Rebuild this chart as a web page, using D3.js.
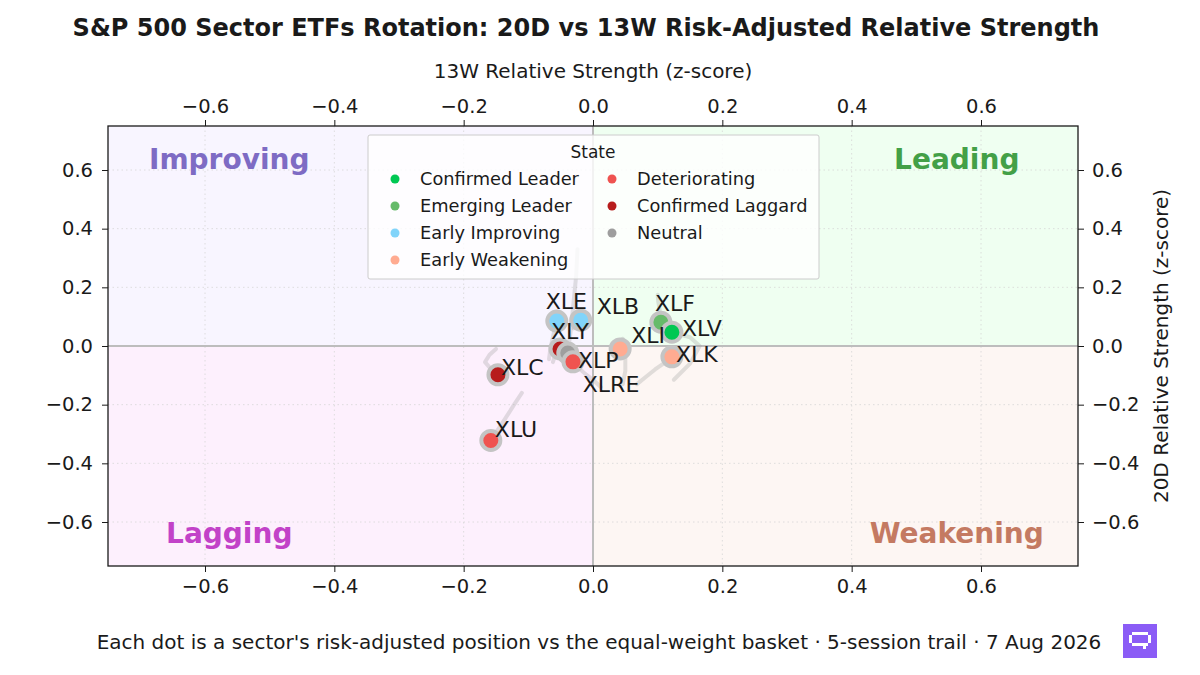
<!DOCTYPE html>
<html>
<head>
<meta charset="utf-8">
<script src="https://cdn.jsdelivr.net/npm/d3@7"></script>
<style>
  body { margin: 0; background: #fff; }
  svg { display: block; font-family: "DejaVu Sans", sans-serif; }
</style>
</head>
<body>
<div id="chart"></div>
<script>
var svgWidth = 1200;
var svgHeight = 675;

var margin = { top: 126, right: 122, bottom: 109, left: 108 };
var width = svgWidth - margin.left - margin.right;
var height = svgHeight - margin.top - margin.bottom;

// Sector data
var tickers = ["XLE", "XLB", "XLY", "XLRE", "XLP", "XLC", "XLU", "XLI", "XLK", "XLF", "XLV"];
var rs13w = [-0.056, -0.019, -0.051, -0.039, -0.031, -0.147, -0.158, 0.042, 0.122, 0.105, 0.122];
var rs20d = [0.085, 0.088, -0.010, -0.024, -0.054, -0.098, -0.322, -0.010, -0.037, 0.081, 0.047];
var states = ["Early Improving", "Early Improving", "Confirmed Laggard", "Neutral", "Deteriorating",
  "Confirmed Laggard", "Deteriorating", "Early Weakening", "Early Weakening", "Emerging Leader", "Confirmed Leader"];

// 5-session trails, oldest first, last point = today
var trailX = [
  [-0.068, -0.066, -0.062, -0.059, -0.056],
  [-0.030, -0.028, -0.024, -0.021, -0.019],
  [-0.062, -0.060, -0.057, -0.054, -0.051],
  [-0.024, -0.026, -0.030, -0.034, -0.039],
  [0.012, 0.000, -0.012, -0.022, -0.031],
  [-0.150, -0.160, -0.167, -0.158, -0.147],
  [-0.110, -0.122, -0.135, -0.147, -0.158],
  [0.046, 0.050, 0.050, 0.046, 0.042],
  [0.068, 0.082, 0.096, 0.110, 0.122],
  [0.100, 0.101, 0.103, 0.104, 0.105],
  [0.125, 0.150, 0.165, 0.150, 0.122]
];
var trailY = [
  [-0.045, -0.010, 0.030, 0.060, 0.085],
  [0.060, 0.072, 0.080, 0.085, 0.088],
  [-0.055, -0.040, -0.030, -0.020, -0.010],
  [0.330, 0.240, 0.150, 0.060, -0.024],
  [-0.140, -0.115, -0.095, -0.075, -0.054],
  [-0.010, -0.030, -0.055, -0.078, -0.098],
  [-0.160, -0.200, -0.245, -0.285, -0.322],
  [-0.130, -0.085, -0.040, 0.025, -0.010],
  [-0.130, -0.105, -0.080, -0.058, -0.037],
  [0.175, 0.150, 0.125, 0.100, 0.081],
  [-0.115, -0.060, 0.000, 0.030, 0.047]
];

var stateNames = ["Confirmed Leader", "Emerging Leader", "Early Improving", "Early Weakening",
  "Deteriorating", "Confirmed Laggard", "Neutral"];
var stateColors = ["#00c853", "#66bb6a", "#81d4fa", "#ffab91", "#ef5350", "#b71c1c", "#9e9e9e"];

var tickValues = [-0.6, -0.4, -0.2, 0.0, 0.2, 0.4, 0.6];

var quadrantNames = ["Improving", "Leading", "Lagging", "Weakening"];
var quadrantFills = ["#f8f5ff", "#effff1", "#fdf0fd", "#fdf6f3"];
var quadrantText = ["#7e6bc4", "#43a047", "#c242c8", "#c47a62"];

// label placement (pixels from the dot)
var labelDx = [-11, 16, -9, 15, 5, 3, 4, 11, 4, -6, 10];
var labelDy = [-12, -6, -10, 39, 6, 0, -3, -6, 5, -11, 4];

var svg = d3.select("#chart")
  .append("svg")
  .attr("width", svgWidth)
  .attr("height", svgHeight);

var chartGroup = svg.append("g")
  .attr("transform", `translate(${margin.left}, ${margin.top})`);

var x = d3.scaleLinear().domain([-0.75, 0.75]).range([0, width]);
var y = d3.scaleLinear().domain([-0.75, 0.75]).range([height, 0]);
var color = d3.scaleOrdinal().domain(stateNames).range(stateColors);

// quadrant backgrounds
var quads = [
  { x0: -0.75, x1: 0, y0: 0, y1: 0.75 },
  { x0: 0, x1: 0.75, y0: 0, y1: 0.75 },
  { x0: -0.75, x1: 0, y0: -0.75, y1: 0 },
  { x0: 0, x1: 0.75, y0: -0.75, y1: 0 }
];
chartGroup.selectAll("rect.quad")
  .data(quads)
  .enter()
  .append("rect")
  .attr("x", d => x(d.x0))
  .attr("y", d => y(d.y1))
  .attr("width", d => x(d.x1) - x(d.x0))
  .attr("height", d => y(d.y0) - y(d.y1))
  .attr("fill", (d, i) => quadrantFills[i]);

// dotted grid
chartGroup.selectAll("line.vgrid")
  .data(tickValues)
  .enter()
  .append("line")
  .attr("x1", d => x(d)).attr("x2", d => x(d))
  .attr("y1", 0).attr("y2", height)
  .attr("stroke", "#d6d6d6")
  .attr("stroke-width", 0.8)
  .attr("stroke-dasharray", "1.5,3");
chartGroup.selectAll("line.hgrid")
  .data(tickValues)
  .enter()
  .append("line")
  .attr("x1", 0).attr("x2", width)
  .attr("y1", d => y(d)).attr("y2", d => y(d))
  .attr("stroke", "#d6d6d6")
  .attr("stroke-width", 0.8)
  .attr("stroke-dasharray", "1.5,3");

// zero lines
chartGroup.append("line")
  .attr("x1", x(0)).attr("x2", x(0)).attr("y1", 0).attr("y2", height)
  .attr("stroke", "#bdbdbd").attr("stroke-width", 2);
chartGroup.append("line")
  .attr("x1", 0).attr("x2", width).attr("y1", y(0)).attr("y2", y(0))
  .attr("stroke", "#bdbdbd").attr("stroke-width", 2);

// quadrant names
var qPos = [[-0.5625, 0.6375], [0.5625, 0.6375], [-0.5625, -0.6375], [0.5625, -0.6375]];
chartGroup.selectAll("text.quadName")
  .data(quadrantNames)
  .enter()
  .append("text")
  .attr("x", (d, i) => x(qPos[i][0]))
  .attr("y", (d, i) => y(qPos[i][1]))
  .attr("text-anchor", "middle")
  .attr("dominant-baseline", "central")
  .attr("font-size", "28px")
  .attr("font-weight", "bold")
  .attr("fill", (d, i) => quadrantText[i])
  .text(d => d);

// trails
var line = d3.line()
  .x(d => x(d[0]))
  .y(d => y(d[1]))
  .curve(d3.curveLinear);

chartGroup.append("g")
  .selectAll("path")
  .data(tickers)
  .enter()
  .append("path")
  .attr("d", (d, i) => line(trailX[i].map((v, j) => [v, trailY[i][j]])))
  .attr("fill", "none")
  .attr("stroke", "#9e9e9e")
  .attr("stroke-opacity", 0.3)
  .attr("stroke-width", 4)
  .attr("stroke-linecap", "round")
  .attr("stroke-linejoin", "round");

// dots
chartGroup.append("g")
  .selectAll("circle")
  .data(tickers)
  .enter()
  .append("circle")
  .attr("cx", (d, i) => x(rs13w[i]))
  .attr("cy", (d, i) => y(rs20d[i]))
  .attr("r", 9.5)
  .attr("fill", (d, i) => color(states[i]))
  .attr("stroke", "#c4c4c4")
  .attr("stroke-width", 4);

// ticker labels
chartGroup.append("g")
  .selectAll("text")
  .data(tickers)
  .enter()
  .append("text")
  .attr("x", (d, i) => x(rs13w[i]) + labelDx[i])
  .attr("y", (d, i) => y(rs20d[i]) + labelDy[i])
  .attr("font-size", "22px")
  .attr("fill", "#1a1a1a")
  .text(d => d);

// legend
var legend = chartGroup.append("g")
  .attr("transform", `translate(${368 - margin.left}, ${135 - margin.top})`);
legend.append("rect")
  .attr("width", 451)
  .attr("height", 144)
  .attr("rx", 2)
  .attr("fill", "#fff")
  .attr("fill-opacity", 0.8)
  .attr("stroke", "#cccccc");
legend.append("text")
  .attr("x", 225)
  .attr("y", 23)
  .attr("text-anchor", "middle")
  .attr("font-size", "17px")
  .attr("fill", "#1a1a1a")
  .text("State");
var items = legend.selectAll("g.item")
  .data(stateNames)
  .enter()
  .append("g")
  .attr("transform", (d, i) => `translate(${i < 4 ? 27 : 244}, ${44 + (i % 4) * 27})`);
items.append("circle")
  .attr("r", 4.5)
  .attr("fill", d => color(d));
items.append("text")
  .attr("x", 25)
  .attr("dy", "0.35em")
  .attr("font-size", "17.8px")
  .attr("fill", "#1a1a1a")
  .text(d => d);

// axes on all four sides
var fmt = d => d3.format(".1f")(d).replace("-", "\u2212");
var topAxis = d3.axisTop(x).tickValues(tickValues).tickFormat(fmt).tickSize(6).tickPadding(7);
var bottomAxis = d3.axisBottom(x).tickValues(tickValues).tickFormat(fmt).tickSize(6).tickPadding(7);
var leftAxis = d3.axisLeft(y).tickValues(tickValues).tickFormat(fmt).tickSize(6).tickPadding(9);
var rightAxis = d3.axisRight(y).tickValues(tickValues).tickFormat(fmt).tickSize(6).tickPadding(8);

function styleAxis(g) {
  g.selectAll("text").attr("font-size", "19.5px").attr("fill", "#1a1a1a").attr("font-family", "DejaVu Sans");
  g.selectAll("line").attr("stroke", "#1a1a1a");
  g.select(".domain").remove();
}
chartGroup.append("g").call(topAxis).call(styleAxis);
chartGroup.append("g").attr("transform", `translate(0, ${height})`).call(bottomAxis).call(styleAxis);
chartGroup.append("g").call(leftAxis).call(styleAxis);
chartGroup.append("g").attr("transform", `translate(${width}, 0)`).call(rightAxis).call(styleAxis);

// frame
chartGroup.append("rect")
  .attr("width", width)
  .attr("height", height)
  .attr("fill", "none")
  .attr("stroke", "#1a1a1a")
  .attr("stroke-width", 1.3);

// axis titles
svg.append("text")
  .attr("x", margin.left + width / 2)
  .attr("y", 78)
  .attr("text-anchor", "middle")
  .attr("font-size", "20px")
  .attr("fill", "#1a1a1a")
  .text("13W Relative Strength (z-score)");
svg.append("text")
  .attr("transform", `translate(1168, ${margin.top + height / 2}) rotate(-90)`)
  .attr("text-anchor", "middle")
  .attr("font-size", "20px")
  .attr("fill", "#1a1a1a")
  .text("20D Relative Strength (z-score)");

// title
svg.append("text")
  .attr("x", 586)
  .attr("y", 36)
  .attr("text-anchor", "middle")
  .attr("font-size", "24px")
  .attr("font-weight", "bold")
  .attr("fill", "#1a1a1a")
  .text("S&P 500 Sector ETFs Rotation: 20D vs 13W Risk-Adjusted Relative Strength");

// footer
svg.append("text")
  .attr("x", 599)
  .attr("y", 649)
  .attr("text-anchor", "middle")
  .attr("font-size", "20px")
  .attr("fill", "#1a1a1a")
  .text("Each dot is a sector's risk-adjusted position vs the equal-weight basket \u00b7 5-session trail \u00b7 7 Aug 2026");

// logo
var logo = svg.append("g").attr("transform", "translate(1123, 624)");
logo.append("rect").attr("width", 34).attr("height", 34).attr("fill", "#8b5cf6");
var px = [[9, 8, 16, 3], [6, 11, 3, 8], [25, 11, 3, 8], [9, 19, 16, 3], [20, 22, 3, 3]];
logo.selectAll("rect.px")
  .data(px)
  .enter()
  .append("rect")
  .attr("x", d => d[0]).attr("y", d => d[1])
  .attr("width", d => d[2]).attr("height", d => d[3])
  .attr("fill", "#fff");
</script>
</body>
</html>
